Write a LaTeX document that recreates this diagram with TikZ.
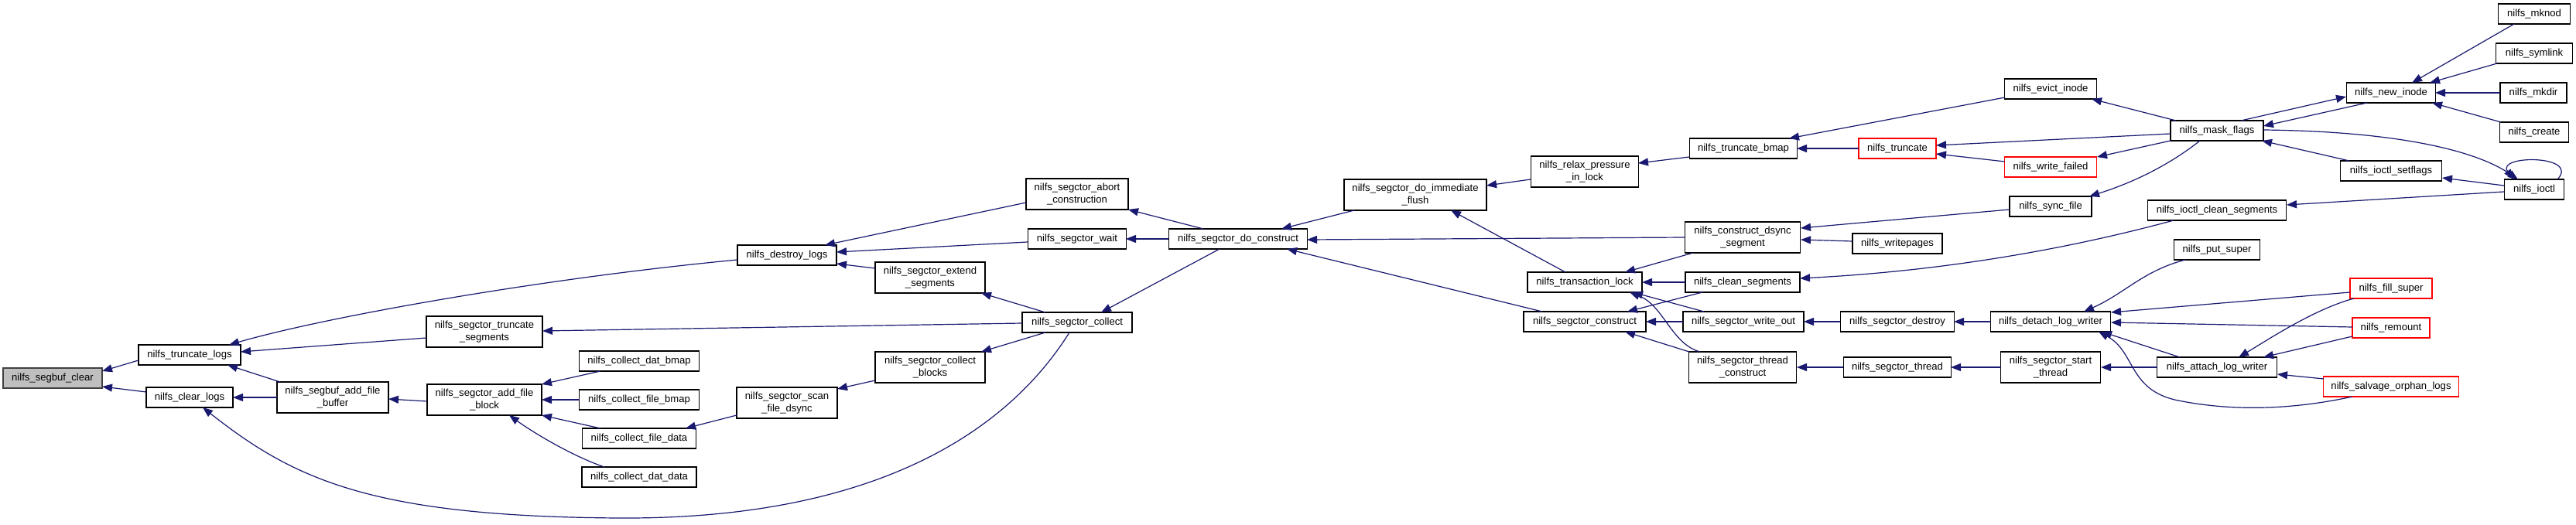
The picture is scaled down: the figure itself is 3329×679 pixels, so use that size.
\documentclass[tikz,border=0pt]{standalone}
\usepackage{fontspec}
\setmainfont{Liberation Sans}
\usetikzlibrary{arrows.meta,calc}
\definecolor{edgec}{HTML}{191970}
\definecolor{hlfill}{HTML}{BFBFBF}
\begin{document}
\begin{tikzpicture}[x=1pt,y=-1pt,
  fn/.style={rectangle, draw=black, line width=1.3pt, fill=white, inner sep=0pt,
    minimum height=26pt, align=center, font=\fontsize{13.1}{15.5}\selectfont},
  fn2/.style={fn, minimum height=40pt},
  rn/.style={fn, draw=red},
  hn/.style={fn, fill=hlfill, draw=black!75},
  ca/.style={draw=edgec, line width=1.2pt, arrows={Triangle[length=13pt,width=10pt]-}}]
\useasboundingbox[fill=white] (0,0) rectangle (3329,679);

% nodes
\node[hn, minimum width=128] (segbufclear) at (68,489) {nilfs\_segbuf\_clear};
\node[fn, minimum width=132] (truncatelogs) at (245,459) {nilfs\_truncate\_logs};
\node[fn, minimum width=112] (clearlogs) at (245,514) {nilfs\_clear\_logs};
\node[fn2, minimum width=144] (addfilebuffer) at (430,514) {nilfs\_segbuf\_add\_file\\\_buffer};
\node[fn2, minimum width=150] (truncsegs) at (626,429) {nilfs\_segctor\_truncate\\\_segments};
\node[fn2, minimum width=148] (addfileblock) at (626,517) {nilfs\_segctor\_add\_file\\\_block};
\node[fn, minimum width=155] (datbmap) at (826,467) {nilfs\_collect\_dat\_bmap};
\node[fn, minimum width=155] (filebmap) at (826,517) {nilfs\_collect\_file\_bmap};
\node[fn, minimum width=147] (filedata) at (826,567) {nilfs\_collect\_file\_data};
\node[fn, minimum width=148] (datdata) at (826,617) {nilfs\_collect\_dat\_data};
\node[fn, minimum width=128] (destroylogs) at (1017,330) {nilfs\_destroy\_logs};
\node[fn2, minimum width=130] (scandsync) at (1017,521) {nilfs\_segctor\_scan\\\_file\_dsync};
\node[fn2, minimum width=142] (extendsegs) at (1202,359) {nilfs\_segctor\_extend\\\_segments};
\node[fn2, minimum width=142] (collectblocks) at (1202,475) {nilfs\_segctor\_collect\\\_blocks};
\node[fn2, minimum width=132] (abortc) at (1392,251) {nilfs\_segctor\_abort\\\_construction};
\node[fn, minimum width=127] (segwait) at (1392,309) {nilfs\_segctor\_wait};
\node[fn, minimum width=142] (segcollect) at (1392,417) {nilfs\_segctor\_collect};
\node[fn, minimum width=179] (doconstruct) at (1600,309) {nilfs\_segctor\_do\_construct};
\node[fn2, minimum width=184] (immflush) at (1829,252) {nilfs\_segctor\_do\_immediate\\\_flush};
\node[fn2, minimum width=139] (relax) at (2048,222) {nilfs\_relax\_pressure\\\_in\_lock};
\node[fn, minimum width=148] (translock) at (2048,365) {nilfs\_transaction\_lock};
\node[fn, minimum width=158] (segconstruct) at (2048,416) {nilfs\_segctor\_construct};
\node[fn, minimum width=139] (truncbmap) at (2253,192) {nilfs\_truncate\_bmap};
\node[fn2, minimum width=149] (dsyncseg) at (2252,307) {nilfs\_construct\_dsync\\\_segment};
\node[fn, minimum width=148] (cleansegs) at (2252,365) {nilfs\_clean\_segments};
\node[fn, minimum width=156] (writeout) at (2253,416) {nilfs\_segctor\_write\_out};
\node[fn2, minimum width=139] (threadconstruct) at (2252,475) {nilfs\_segctor\_thread\\\_construct};
\node[rn, minimum width=100] (truncate) at (2452,192) {nilfs\_truncate};
\node[fn, minimum width=116] (writepages) at (2452,315) {nilfs\_writepages};
\node[fn, minimum width=147] (segdestroy) at (2452,416) {nilfs\_segctor\_destroy};
\node[fn, minimum width=139] (segthread) at (2452,475) {nilfs\_segctor\_thread};
\node[fn, minimum width=119] (evict) at (2650,115) {nilfs\_evict\_inode};
\node[rn, minimum width=119] (writefailed) at (2650,216) {nilfs\_write\_failed};
\node[fn, minimum width=106] (syncfile) at (2650,267) {nilfs\_sync\_file};
\node[fn, minimum width=155] (detach) at (2650,416) {nilfs\_detach\_log\_writer};
\node[fn2, minimum width=129] (startthread) at (2650,475) {nilfs\_segctor\_start\\\_thread};
\node[fn, minimum width=120] (maskflags) at (2865,169) {nilfs\_mask\_flags};
\node[fn, minimum width=179] (ioctlclean) at (2865,272) {nilfs\_ioctl\_clean\_segments};
\node[fn, minimum width=111] (putsuper) at (2865,323) {nilfs\_put\_super};
\node[fn, minimum width=155] (attach) at (2865,475) {nilfs\_attach\_log\_writer};
\node[fn, minimum width=115] (newinode) at (3090,120) {nilfs\_new\_inode};
\node[fn, minimum width=131] (setflags) at (3090,221) {nilfs\_ioctl\_setflags};
\node[rn, minimum width=106] (fillsuper) at (3090,373) {nilfs\_fill\_super};
\node[rn, minimum width=100] (remount) at (3090,424) {nilfs\_remount};
\node[rn, minimum width=175] (salvage) at (3090,500) {nilfs\_salvage\_orphan\_logs};
\node[fn, minimum width=93] (mknod) at (3275,18) {nilfs\_mknod};
\node[fn, minimum width=99] (symlink) at (3275,69) {nilfs\_symlink};
\node[fn, minimum width=86] (mkdir) at (3274,120) {nilfs\_mkdir};
\node[fn, minimum width=89] (create) at (3275,171) {nilfs\_create};
\node[fn, minimum width=77] (ioctl) at (3275,245) {nilfs\_ioctl};

% edges (arrow at callee)
\draw[ca] ($(segbufclear)+(64,-9)$) -- ($(truncatelogs)+(-66,7)$);
\draw[ca] ($(segbufclear)+(64,11)$) -- ($(clearlogs)+(-56,-7)$);
\draw[ca] ($(truncatelogs)+(51,-13)$) .. controls (420,410) and (700,360) .. ($(destroylogs)+(-64,6)$);
\draw[ca] ($(truncatelogs)+(66,-4)$) -- ($(truncsegs)+(-75,8)$);
\draw[ca] ($(truncatelogs)+(49,13)$) -- ($(addfilebuffer)+(-68,-20)$);
\draw[ca] ($(clearlogs)+(56,0)$) -- ($(addfilebuffer)+(-72,0)$);
\draw[ca] ($(clearlogs)+(17,13)$) .. controls (380,620) and (480,668) .. (800,670) .. controls (1150,672) and (1310,545) .. ($(segcollect)+(-10,13)$);
\draw[ca] ($(addfilebuffer)+(72,2)$) -- ($(addfileblock)+(-74,2)$);
\draw[ca] ($(addfileblock)+(74,-20)$) -- ($(datbmap)+(-50,13)$);
\draw[ca] ($(addfileblock)+(74,0)$) -- ($(filebmap)+(-77,0)$);
\draw[ca] ($(addfileblock)+(74,20)$) -- ($(filedata)+(-50,-13)$);
\draw[ca] ($(addfileblock)+(32,20)$) .. controls (690,560) and (740,590) .. ($(datdata)+(-45,-13)$);
\draw[ca] ($(filedata)+(60,-13)$) -- ($(scandsync)+(-65,16)$);
\draw[ca] ($(destroylogs)+(49,-13)$) -- ($(abortc)+(-66,11)$);
\draw[ca] ($(destroylogs)+(64,-4)$) -- ($(segwait)+(-64,4)$);
\draw[ca] ($(destroylogs)+(64,11)$) -- ($(extendsegs)+(-71,-12)$);
\draw[ca] ($(truncsegs)+(75,-1)$) -- ($(segcollect)+(-71,1)$);
\draw[ca] ($(scandsync)+(65,-18)$) -- ($(collectblocks)+(-71,17)$);
\draw[ca] ($(extendsegs)+(66,20)$) -- ($(segcollect)+(-41,-13)$);
\draw[ca] ($(collectblocks)+(66,-20)$) -- ($(segcollect)+(-41,13)$);
\draw[ca] ($(abortc)+(66,20)$) -- ($(doconstruct)+(-45,-13)$);
\draw[ca] ($(segwait)+(63,0)$) -- ($(doconstruct)+(-90,0)$);
\draw[ca] ($(segcollect)+(31,-13)$) -- ($(doconstruct)+(-24,13)$);
\draw[ca] ($(doconstruct)+(56,-13)$) -- ($(immflush)+(-79,20)$);
\draw[ca] ($(doconstruct)+(89,1)$) -- ($(dsyncseg)+(-74,0)$);
\draw[ca] ($(doconstruct)+(63,13)$) -- ($(segconstruct)+(-55,-13)$);
\draw[ca] ($(immflush)+(92,-12)$) -- ($(relax)+(-70,10)$);
\draw[ca] ($(immflush)+(46,20)$) -- ($(translock)+(-25,-13)$);
\draw[ca] ($(relax)+(69,-11)$) -- ($(truncbmap)+(-70,11)$);
\draw[ca] ($(translock)+(52,-13)$) -- ($(dsyncseg)+(-64,20)$);
\draw[ca] ($(translock)+(74,0)$) -- ($(cleansegs)+(-74,0)$);
\draw[ca] ($(translock)+(62,13)$) -- ($(writeout)+(-51,-13)$);
\draw[ca] ($(translock)+(58,13)$) .. controls (2150,395) and (2160,445) .. ($(threadconstruct)+(-55,-20)$);
\draw[ca] ($(segconstruct)+(55,-13)$) -- ($(cleansegs)+(-52,13)$);
\draw[ca] ($(segconstruct)+(79,0)$) -- ($(writeout)+(-78,0)$);
\draw[ca] ($(segconstruct)+(52,13)$) -- ($(threadconstruct)+(-69,-20)$);
\draw[ca] ($(truncbmap)+(59,-13)$) -- ($(evict)+(-59,11)$);
\draw[ca] ($(truncbmap)+(69,0)$) -- ($(truncate)+(-50,0)$);
\draw[ca] ($(dsyncseg)+(75,-12)$) -- ($(syncfile)+(-53,4)$);
\draw[ca] ($(dsyncseg)+(75,3)$) -- ($(writepages)+(-58,-3)$);
\draw[ca] ($(cleansegs)+(74,-5)$) .. controls (2520,350) and (2680,320) .. ($(ioctlclean)+(-56,13)$);
\draw[ca] ($(writeout)+(78,0)$) -- ($(segdestroy)+(-74,0)$);
\draw[ca] ($(threadconstruct)+(70,0)$) -- ($(segthread)+(-70,0)$);
\draw[ca] ($(truncate)+(50,-4)$) -- ($(maskflags)+(-60,4)$);
\draw[ca] ($(truncate)+(50,7)$) -- ($(writefailed)+(-59,-7)$);
\draw[ca] ($(segdestroy)+(73,0)$) -- ($(detach)+(-77,0)$);
\draw[ca] ($(segthread)+(69,0)$) -- ($(startthread)+(-64,0)$);
\draw[ca] ($(evict)+(53,13)$) -- ($(maskflags)+(-53,-13)$);
\draw[ca] ($(writefailed)+(60,-13)$) -- ($(maskflags)+(-60,13)$);
\draw[ca] ($(syncfile)+(50,-13)$) .. controls (2760,235) and (2805,212) .. ($(maskflags)+(-22,13)$);
\draw[ca] ($(detach)+(43,-13)$) .. controls (2745,380) and (2770,350) .. ($(putsuper)+(-41,13)$);
\draw[ca] ($(detach)+(78,-12)$) -- ($(fillsuper)+(-53,5)$);
\draw[ca] ($(detach)+(78,1)$) -- ($(remount)+(-50,-1)$);
\draw[ca] ($(detach)+(66,13)$) -- ($(attach)+(-48,-13)$);
\draw[ca] ($(detach)+(62,13)$) .. controls (2760,455) and (2750,505) .. (2815,518) .. controls (2900,535) and (2980,526) .. ($(salvage)+(-50,13)$);
\draw[ca] ($(startthread)+(65,0)$) -- ($(attach)+(-77,0)$);
\draw[ca] ($(maskflags)+(60,-6)$) -- ($(newinode)+(-31,13)$);
\draw[ca] ($(newinode)+(-58,5)$) -- ($(maskflags)+(31,-13)$);
\draw[ca] ($(maskflags)+(58,13)$) -- ($(setflags)+(-54,-13)$);
\draw[ca] ($(ioctl)+(-21,-13)$) .. controls (3200,195) and (3100,170) .. ($(maskflags)+(60,-1)$);
\draw[ca] ($(ioctl)+(-27,-13)$) .. controls (3225,200) and (3335,200) .. ($(ioctl)+(30,-13)$);
\draw[ca] ($(newinode)+(27,-13)$) -- ($(mknod)+(-26,13)$);
\draw[ca] ($(newinode)+(50,-13)$) -- ($(symlink)+(-48,13)$);
\draw[ca] ($(newinode)+(57,0)$) -- ($(mkdir)+(-43,0)$);
\draw[ca] ($(newinode)+(53,13)$) -- ($(create)+(-43,-13)$);
\draw[ca] ($(setflags)+(66,9)$) -- ($(ioctl)+(-39,-5)$);
\draw[ca] ($(ioctlclean)+(90,-7)$) -- ($(ioctl)+(-39,3)$);
\draw[ca] ($(attach)+(28,-13)$) .. controls (2930,440) and (2990,400) .. ($(fillsuper)+(-48,13)$);
\draw[ca] ($(attach)+(60,-13)$) -- ($(remount)+(-50,11)$);
\draw[ca] ($(attach)+(78,9)$) -- ($(salvage)+(-87,-10)$);
\end{tikzpicture}
\end{document}
